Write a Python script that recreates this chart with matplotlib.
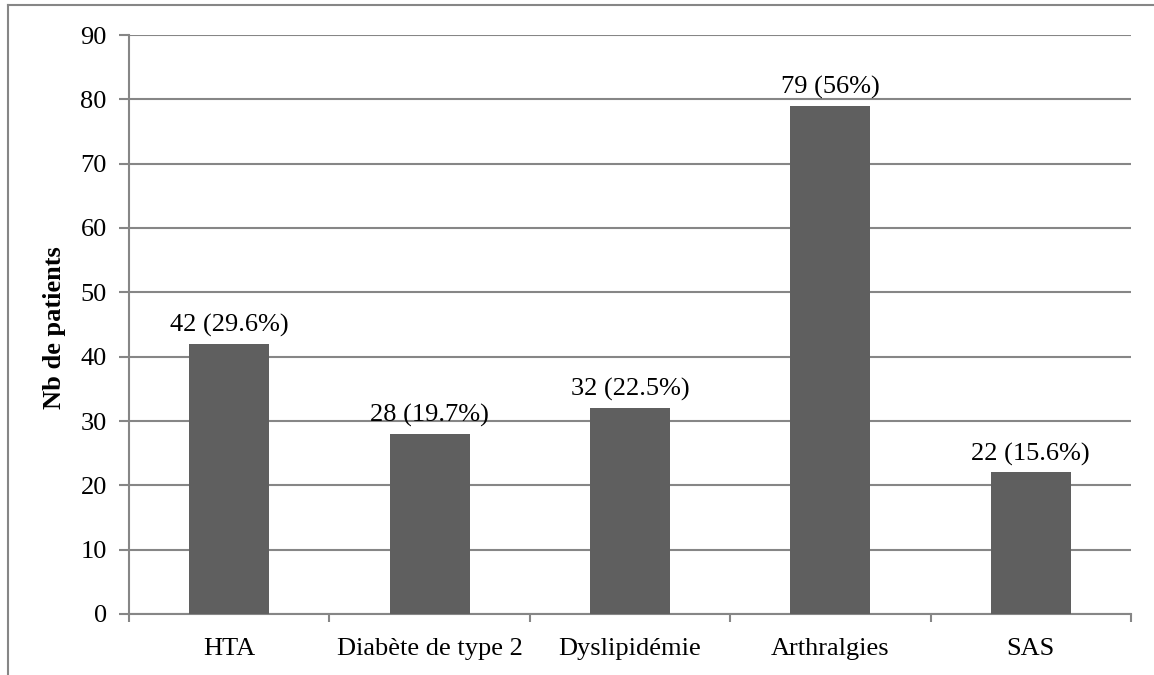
import matplotlib.pyplot as plt
from matplotlib.lines import Line2D

categories = ['HTA', 'Diabète de type 2', 'Dyslipidémie', 'Arthralgies', 'SAS']
values = [42, 28, 32, 79, 22]
labels = ['42 (29.6%)', '28 (19.7%)', '32 (22.5%)', '79 (56%)', '22 (15.6%)']

plt.rcParams['font.family'] = ['Liberation Serif', 'DejaVu Serif']
plt.rcParams['font.size'] = 19

W, H = 1154, 675
fig = plt.figure(figsize=(W / 100, H / 100), dpi=100)
ax = fig.add_axes([129 / W, 1 - 614 / H, (1131 - 129) / W, (614 - 35) / H])

grid_col = '#868686'
x = list(range(len(categories)))
ax.bar(x, values, width=0.4, color='#5f5f5f', zorder=3)
for xi, v, lab in zip(x, values, labels):
    ax.annotate(lab, (xi, v), xytext=(0, 5), textcoords='offset points',
                ha='center', va='bottom', fontsize=19, zorder=4)

ax.set_xlim(-0.5, len(categories) - 0.5)
ax.set_ylim(0, 90)
ax.set_yticks(range(0, 91, 10))
ax.yaxis.grid(True, color=grid_col, linewidth=1.5, zorder=0)
ax.set_xticks(x)
ax.set_xticklabels(categories)
ax.tick_params(axis='x', length=0, pad=17)
ax.set_xticks([i - 0.5 for i in range(len(categories) + 1)], minor=True)
ax.tick_params(axis='x', which='minor', length=6, width=1.5, color=grid_col)
ax.tick_params(axis='y', length=7, width=1.5, color=grid_col, pad=9)

for s in ['top', 'right']:
    ax.spines[s].set_visible(False)
for s in ['left', 'bottom']:
    ax.spines[s].set_color(grid_col)
    ax.spines[s].set_linewidth(1.5)

ax.set_ylabel('Nb de patients', fontweight='bold', fontsize=19)
ax.yaxis.set_label_coords(-(129 - 66) / 1002, 0.495)

# outer frame of the chart area
fig.add_artist(Line2D([8 / W, 8 / W], [0, 1 - 5 / H], color=grid_col, linewidth=1.5))
fig.add_artist(Line2D([8 / W, 1], [1 - 5 / H, 1 - 5 / H], color=grid_col, linewidth=1.5))

fig.savefig('out.png', dpi=100)
